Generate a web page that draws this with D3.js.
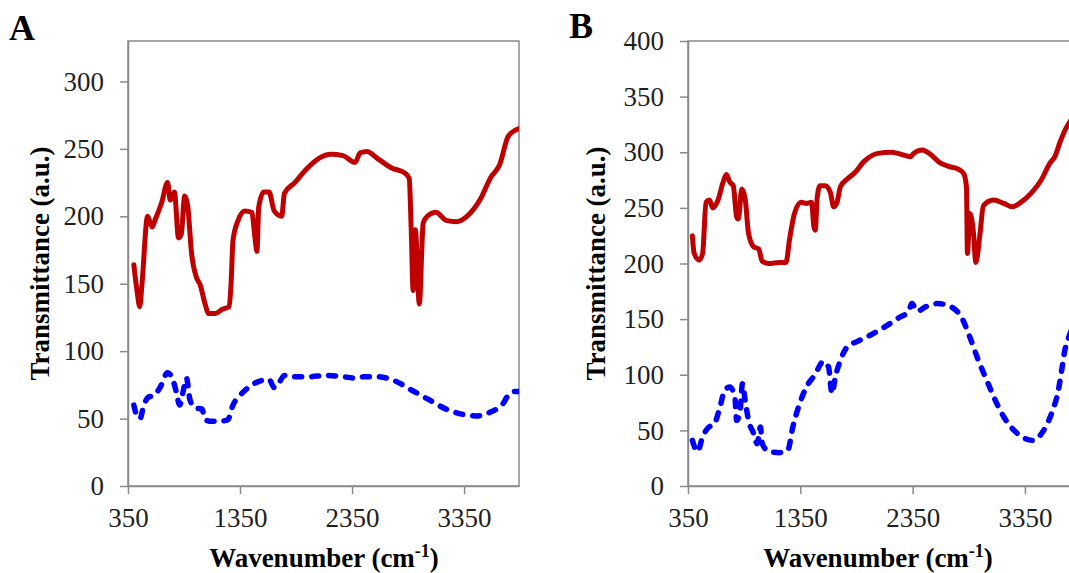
<!DOCTYPE html>
<html>
<head>
<meta charset="utf-8">
<script src="https://cdn.jsdelivr.net/npm/d3@7"></script>
<style>
  body { margin: 0; background: #fff; }
  text { font-family: "Liberation Serif", "Times New Roman", serif; }
</style>
</head>
<body>
<div id="chart"></div>
<script>
// tick labels
var xTicks = [350, 1350, 2350, 3350];
var yTicksA = [0, 50, 100, 150, 200, 250, 300];
var yTicksB = [0, 50, 100, 150, 200, 250, 300, 350, 400];

// panel A: [wavenumber, transmittance]
var redA = [[402,164],[430,145],[455,133],[475,150],[525,200],[565,192],[595,198],[650,210],[703,225],[727,212],
  [764,218],[801,184],[826,187],[856,215],[881,209],[918,172],[964,154],[995,149],[1038,135],[1069,128],
  [1131,128],[1192,131],[1253,133],[1270,150],[1287,182],[1333,197],[1393,204],[1455,203],[1486,182],[1501,174],
  [1517,207],[1562,218],[1609,218],[1655,204],[1722,200],[1746,217],[1839,225],[1931,234],[2054,243],[2161,246],
  [2269,245],[2377,240],[2422,247],[2483,248],[2575,243],[2699,236],[2822,232],[2860,228],[2878,190],[2895,145],
  [2915,190],[2950,135],[2985,195],[3010,199],[3098,203],[3190,197],[3282,196],[3375,200],[3497,213],[3589,229],
  [3666,238],[3742,259],[3773,262],[3840,265]];
var blueA = [[402,60],[430,52],[458,50],[488,59],[534,66],[580,67],[642,74],[703,84],[750,79],[780,70],
  [811,60],[842,70],[872,80],[903,64],[949,58],[1010,57],[1040,49],[1100,48],[1162,48],[1240,49],
  [1287,60],[1348,67],[1440,74],[1532,78],[1609,79],[1655,73],[1701,77],[1747,82],[1839,81],[1962,81],
  [2115,82],[2269,81],[2391,80],[2452,81],[2575,81],[2730,78],[2883,71],[3036,64],[3190,57],[3344,53],
  [3466,52],[3589,55],[3697,61],[3742,67],[3803,70],[3840,70]];

// panel B
var redB = [[389,225],[405,209],[450,203],[480,209],[511,255],[541,257],[571,250],[617,257],[662,273],[692,280],
  [723,273],[753,270],[783,242],[798,240],[829,267],[859,258],[889,227],[935,215],[980,213],[1010,202],
  [1071,200],[1162,201],[1223,201],[1253,221],[1298,245],[1359,255],[1404,254],[1450,255],[1471,233],[1483,230],
  [1501,260],[1526,270],[1571,270],[1617,264],[1647,251],[1677,255],[1707,269],[1768,276],[1829,281],[1920,292],
  [2041,299],[2162,300],[2253,298],[2329,296],[2359,299],[2435,302],[2510,298],[2586,291],[2677,287],[2753,285],
  [2804,281],[2829,269],[2838,209],[2859,245],[2889,230],[2913,201],[2950,227],[2980,252],[3071,257],[3162,254],
  [3238,251],[3313,255],[3404,263],[3495,275],[3571,290],[3616,296],[3662,309],[3707,320],[3760,329],[3840,341]];
var blueB = [[389,41],[435,31],[480,44],[526,52],[586,56],[632,70],[677,86],[723,89],[768,79],[783,59],
  [814,68],[835,92],[859,77],[889,59],[935,47],[965,38],[995,53],[1011,38],[1071,31],[1162,30],
  [1238,32],[1283,53],[1344,74],[1404,89],[1480,100],[1556,112],[1601,107],[1632,83],[1662,98],[1707,113],
  [1768,125],[1859,130],[1980,136],[2101,143],[2223,151],[2313,157],[2344,164],[2389,157],[2465,161],[2571,164],
  [2692,161],[2783,152],[2859,134],[2935,113],[3010,95],[3086,77],[3162,62],[3253,50],[3344,43],[3419,41],
  [3510,49],[3586,65],[3647,86],[3677,104],[3707,123],[3728,130],[3770,142],[3840,155]];

var width = 1069, height = 573;
var plotTop = 41, plotBottom = 486;
var axisColor = "#8a8a8a", textColor = "#1f1f1f";

var svg = d3.select("#chart").append("svg")
    .attr("width", width)
    .attr("height", height);

var panels = [
  { id: "A", left: 128, right: 519, ymax: 330, yTicks: yTicksA, red: redA, blue: blueA,
    letterX: 9, letterY: 40, yTitleX: 49, xTitleX: 324 },
  { id: "B", left: 688, right: 1080, ymax: 400, yTicks: yTicksB, red: redB, blue: blueB,
    letterX: 569, letterY: 38, yTitleX: 605, xTitleX: 878 }
];

panels.forEach(function (p) {
  var x = d3.scaleLinear().domain([350, 3840]).range([p.left, p.right]);
  var y = d3.scaleLinear().domain([0, p.ymax]).range([plotBottom, plotTop]);
  var g = svg.append("g");

  g.append("clipPath").attr("id", "clip" + p.id)
    .append("rect")
    .attr("x", p.left).attr("y", plotTop)
    .attr("width", p.right - p.left).attr("height", plotBottom - plotTop);

  // plot frame
  g.append("rect")
    .attr("x", p.left).attr("y", plotTop)
    .attr("width", p.right - p.left).attr("height", plotBottom - plotTop)
    .attr("fill", "none")
    .attr("stroke", axisColor)
    .attr("stroke-width", 1.5);

  var xAxis = g.append("g")
    .attr("transform", "translate(0," + plotBottom + ")")
    .call(d3.axisBottom(x).tickValues(xTicks).tickFormat(d3.format("d"))
      .tickSize(8).tickSizeOuter(0).tickPadding(14));

  var yAxis = g.append("g")
    .attr("transform", "translate(" + p.left + ",0)")
    .call(d3.axisLeft(y).tickValues(p.yTicks).tickFormat(d3.format("d"))
      .tickSize(8).tickSizeOuter(0).tickPadding(16));

  [xAxis, yAxis].forEach(function (a) {
    a.select(".domain").attr("stroke", axisColor).attr("stroke-width", 1.5);
    a.selectAll(".tick line").attr("stroke", axisColor).attr("stroke-width", 1.5);
    a.selectAll(".tick text")
      .attr("fill", textColor)
      .style("font-family", "'Liberation Serif', serif")
      .style("font-size", "27px");
  });

  var line = d3.line()
    .x(function (d) { return x(d[0]); })
    .y(function (d) { return y(d[1]); })
    .curve(d3.curveMonotoneX);

  var lines = g.append("g").attr("clip-path", "url(#clip" + p.id + ")");

  lines.append("path")
    .attr("d", line(p.blue))
    .attr("fill", "none")
    .attr("stroke", "#0000ff")
    .attr("stroke-width", 5.5)
    .attr("stroke-dasharray", "7,10")
    .attr("stroke-linecap", "round")
    .attr("stroke-linejoin", "round");

  lines.append("path")
    .attr("d", line(p.red))
    .attr("fill", "none")
    .attr("stroke", "#c00000")
    .attr("stroke-width", 5)
    .attr("stroke-linecap", "round")
    .attr("stroke-linejoin", "round");

  // panel letter
  svg.append("text")
    .attr("x", p.letterX).attr("y", p.letterY)
    .attr("fill", "#000")
    .style("font-size", "36px")
    .style("font-weight", "bold")
    .text(p.id);

  // y title
  svg.append("text")
    .attr("transform", "translate(" + p.yTitleX + "," + ((plotTop + plotBottom) / 2) + ") rotate(-90)")
    .attr("text-anchor", "middle")
    .attr("fill", "#000")
    .style("font-size", "27px")
    .style("font-weight", "bold")
    .text("Transmittance (a.u.)");

  // x title
  var xt = svg.append("text")
    .attr("x", p.xTitleX).attr("y", 567)
    .attr("text-anchor", "middle")
    .attr("fill", "#000")
    .style("font-size", "27px")
    .style("font-weight", "bold");
  xt.append("tspan").text("Wavenumber (cm");
  xt.append("tspan").attr("dy", -10).style("font-size", "18px").text("-1");
  xt.append("tspan").attr("dy", 10).text(")");
});
</script>
</body>
</html>
